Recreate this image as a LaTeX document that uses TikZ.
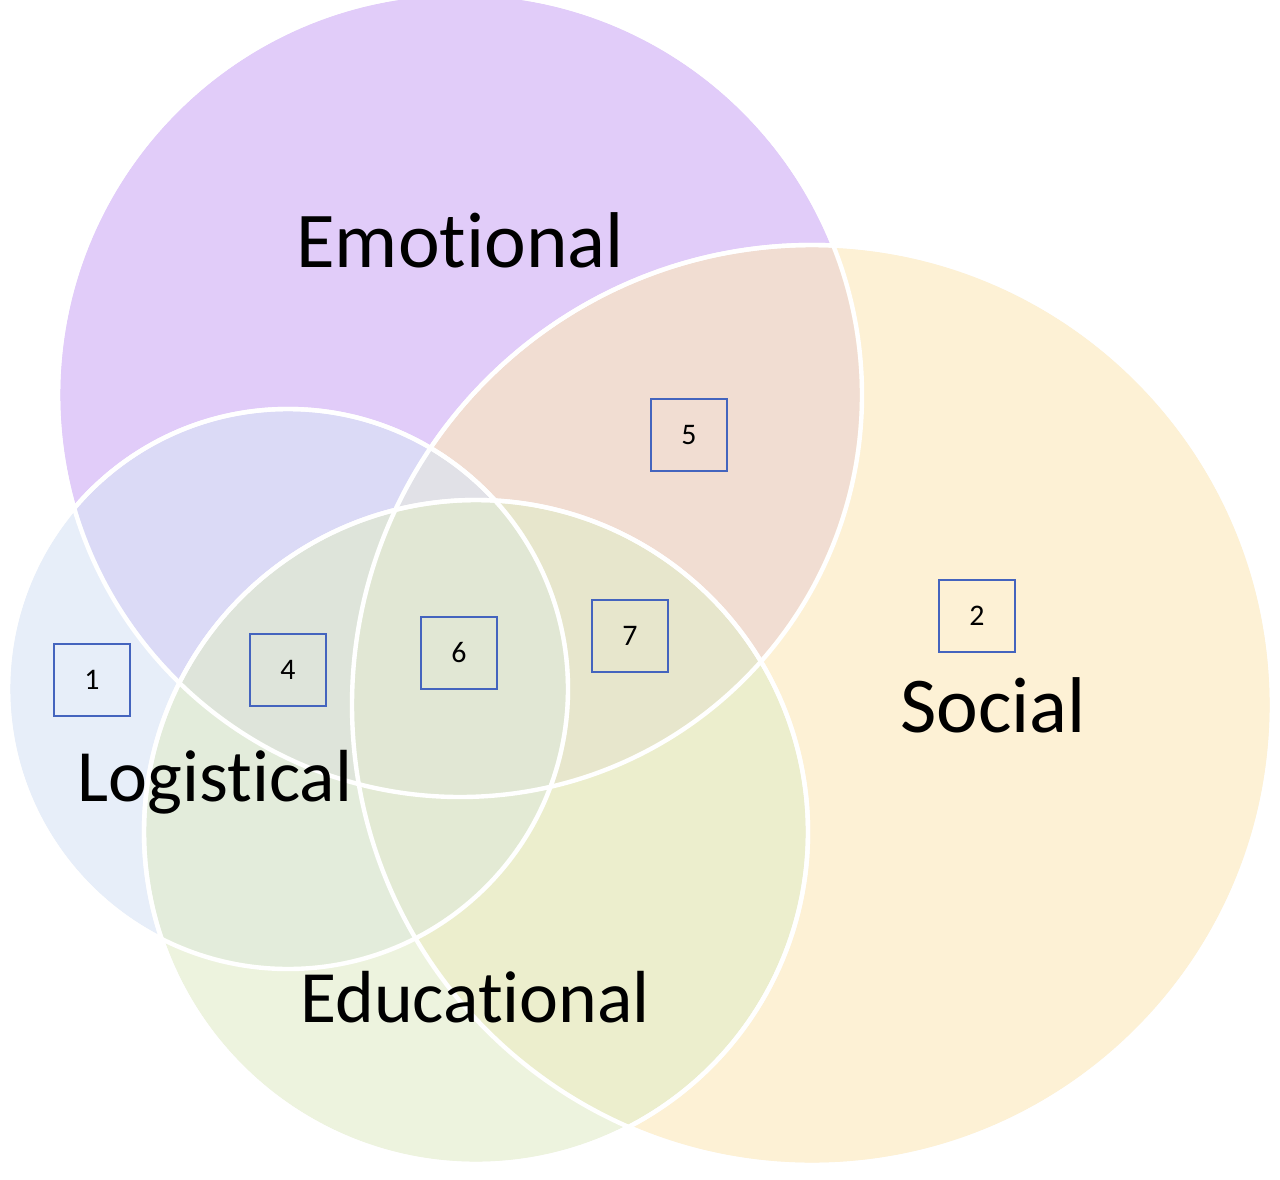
\documentclass[tikz,border=0pt]{standalone}
\usepackage{fontspec}
\setmainfont[Ligatures={NoCommon}]{Carlito}
\usepackage{tikz}
\definecolor{emo}{RGB}{205,170,245}
\definecolor{soc}{RGB}{253,233,185}
\definecolor{logi}{RGB}{215,228,245}
\definecolor{edu}{RGB}{225,236,200}
\definecolor{boxb}{RGB}{68,100,190}
\tikzstyle{set}=[draw=white,line width=2.5pt,fill opacity=0.6]
\tikzstyle{num}=[draw=boxb,line width=1.2pt,fill=none,minimum width=1.52cm,minimum height=1.45cm,font=\fontsize{17}{17}\selectfont]
\tikzstyle{lab}=[font=\fontsize{45}{45}\selectfont]

\begin{document}
\begin{tikzpicture}[x=0.02cm,y=-0.02cm]
\useasboundingbox (0,0) rectangle (1280,1179);
\fill[white] (0,0) rectangle (1280,1179);
\fill[set,fill=emo] (460,395) circle (402);
\fill[set,fill=soc] (812,705) circle (460);
\fill[set,fill=logi] (288,689) circle (280);
\fill[set,fill=edu] (476,832) circle (332);
\draw[white,line width=2.5pt] (460,395) circle (402);
\draw[white,line width=2.5pt] (812,705) circle (460);
\draw[white,line width=2.5pt] (288,689) circle (280);
\draw[white,line width=2.5pt] (476,832) circle (332);
\node[lab] (emotional) at (460,240) {Emotional};
\node[lab] (social) at (993,705) {Social};
\node[lab,font=\fontsize{42}{42}\selectfont] (logistical) at (215,782) {Logistical};
\node[lab,font=\fontsize{42}{42}\selectfont] (educational) at (475,997) {Educational};
\node[num] (b1) at (92,680) {1};
\node[num] (b2) at (977,616) {2};
\node[num] (b4) at (288,670) {4};
\node[num] (b5) at (689,435) {5};
\node[num] (b6) at (459,653) {6};
\node[num] (b7) at (630,636) {7};
\end{tikzpicture}
\end{document}
